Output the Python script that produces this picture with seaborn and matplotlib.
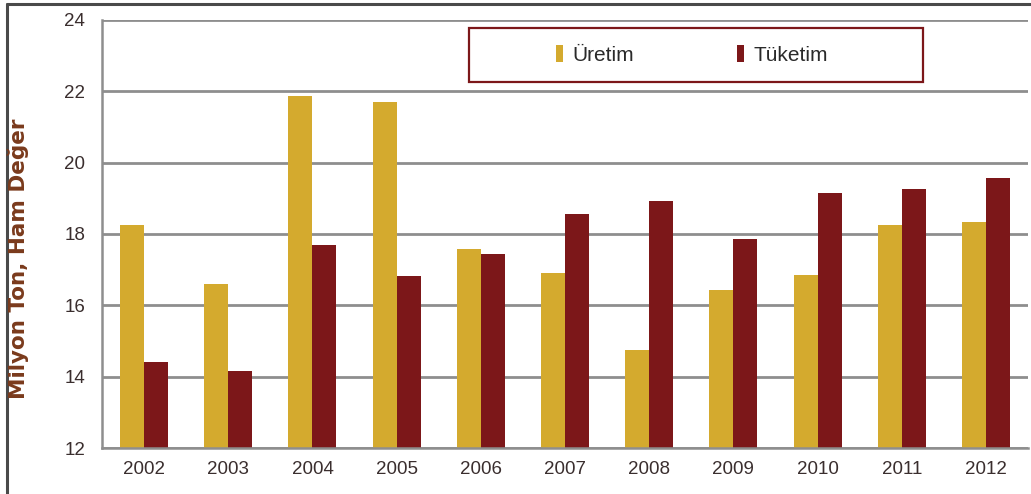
import matplotlib
matplotlib.use("Agg")
import matplotlib.pyplot as plt
import seaborn as sns
import pandas as pd
from matplotlib.lines import Line2D
from matplotlib.patches import Rectangle, Patch
from matplotlib import font_manager

years = ["2002", "2003", "2004", "2005", "2006", "2007", "2008", "2009", "2010", "2011", "2012"]
uretim = [18.26, 16.60, 21.86, 21.69, 17.58, 16.90, 14.74, 16.43, 16.85, 18.25, 18.33]
tuketim = [14.41, 14.15, 17.70, 16.83, 17.44, 18.56, 18.92, 17.85, 19.16, 19.27, 19.56]
series_names = ["Üretim", "Tüketim"]
y_ticks = [12, 14, 16, 18, 20, 22, 24]
y_label = "Milyon Ton, Ham Değer"

GOLD = "#D4AA2E"
RED = "#7C1719"
GRID = "#8E8E8E"

df = pd.DataFrame({
    "Yıl": years * 2,
    "Değer": uretim + tuketim,
    "Seri": [series_names[0]] * len(years) + [series_names[1]] * len(years),
})

sns.set_theme(style="white")
names = {f.name for f in font_manager.fontManager.ttflist}
narrow = "Liberation Sans Narrow" if "Liberation Sans Narrow" in names else "Liberation Sans"
plt.rcParams["font.family"] = ["DejaVu Sans"]

fig = plt.figure(figsize=(10.31, 4.94), dpi=100)
ax = fig.add_axes([102 / 1031, 1 - 448 / 494, 926 / 1031, 428 / 494])

sns.barplot(data=df, x="Yıl", y="Değer", hue="Seri", palette=[GOLD, RED],
            width=0.57, saturation=1, ax=ax, legend=False, errorbar=None,
            linewidth=0, edgecolor="none")

ax.set_xlim(-0.5, len(years) - 0.5)
ax.set_ylim(12, 24)
ax.set_yticks(y_ticks)
ax.set_yticklabels([str(t) for t in y_ticks])
ax.set_axisbelow(True)
ax.yaxis.grid(True, color=GRID, linewidth=2.0)
ax.xaxis.grid(False)
for s in ["top", "right"]:
    ax.spines[s].set_visible(False)
for s in ["left", "bottom"]:
    ax.spines[s].set_color(GRID)
    ax.spines[s].set_linewidth(1.8)

ax.set_xticks(range(len(years)))
ax.set_xticklabels(years, fontsize=13.5, color="#3A2E2E", family=narrow)
ax.tick_params(axis="x", which="major", length=0, pad=9)
ax.set_xticks([i - 0.5 for i in range(len(years) + 1)], minor=True)
ax.tick_params(axis="x", which="minor", length=5, width=1.5, color=GRID, direction="out")
ax.tick_params(axis="y", length=6, width=1.5, color=GRID, direction="out", pad=6,
               labelsize=13.5, labelcolor="#3A2E2E")
for lab in ax.get_yticklabels():
    lab.set_family(narrow)

ax.set_xlabel("")
ax.set_ylabel("")
fig.text(18 / 1031, 1 - 259 / 494, y_label, rotation=90, ha="center", va="center",
         fontsize=15.5, fontweight="bold", color="#7A3A1C", family="DejaVu Sans")

handles = [Patch(facecolor=GOLD, edgecolor="none"), Patch(facecolor=RED, edgecolor="none")]
leg = ax.legend(handles, series_names, loc="center", bbox_to_anchor=(0.637, 0.918),
                ncol=2, frameon=False, handlelength=0.35, handleheight=0.85,
                handletextpad=0.45, columnspacing=4.95,
                prop={"family": narrow, "size": 15})
for t in leg.get_texts():
    t.set_color("#2A2A2A")
ax.add_patch(Rectangle(((469 - 102) / 926, 1 - (82 - 20) / 428), (923 - 469) / 926, (82 - 28) / 428,
                       transform=ax.transAxes, fill=False, edgecolor=RED, linewidth=1.6,
                       clip_on=False, zorder=5))

fig.add_artist(Line2D([7 / 1031, 1], [1 - 4 / 494, 1 - 4 / 494], color="#4A4A4A", linewidth=2.2))
fig.add_artist(Line2D([7 / 1031, 7 / 1031], [0, 1 - 4 / 494], color="#4A4A4A", linewidth=2.2))

fig.savefig("out.png", dpi=100, facecolor="white")
